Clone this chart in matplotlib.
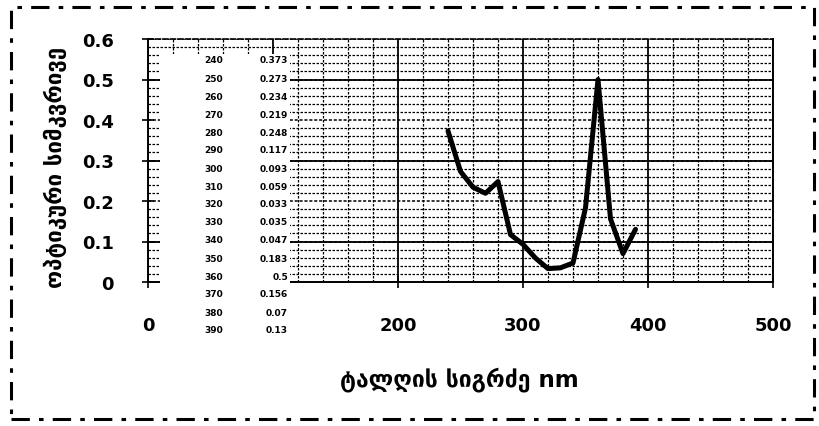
import matplotlib
matplotlib.use("Agg")
import matplotlib.pyplot as plt
from matplotlib.patches import Rectangle

# data (table inset)
wavelength = [240, 250, 260, 270, 280, 290, 300, 310, 320, 330, 340, 350, 360, 370, 380, 390]
density = [0.373, 0.273, 0.234, 0.219, 0.248, 0.117, 0.093, 0.059, 0.033, 0.035,
           0.047, 0.183, 0.5, 0.156, 0.07, 0.13]
table_vals = ["0.373", "0.273", "0.234", "0.219", "0.248", "0.117", "0.093", "0.059",
              "0.033", "0.035", "0.047", "0.183", "0.5", "0.156", "0.07", "0.13"]

x_ticks = [0, 100, 200, 300, 400, 500]
x_ticklabels = ["0", "100", "200", "300", "400", "500"]
y_ticks = [0, 0.1, 0.2, 0.3, 0.4, 0.5, 0.6]
y_ticklabels = ["0", "0.1", "0.2", "0.3", "0.4", "0.5", "0.6"]
x_minor = list(range(0, 501, 20))
y_minor = [i / 50 for i in range(31)]
solid_y = [0.1, 0.3, 0.5]

x_label = "ტალღის სიგრძე nm"
y_label = "ოპტიკური სიმკვრივე"

plt.rcParams['font.family'] = ['DejaVu Sans']

fig = plt.figure(figsize=(8.19, 4.27), dpi=100)
ax = fig.add_axes([148 / 819, 1 - 283 / 427, (773 - 148) / 819, (283 - 40) / 427])

ax.set_xlim(0, 500)
ax.set_ylim(0, 0.6)
ax.set_xticks(x_ticks, x_ticklabels, fontweight='bold')
ax.set_yticks(y_ticks, y_ticklabels, fontweight='bold')
ax.set_xticks(x_minor, minor=True)
ax.set_yticks(y_minor, minor=True)

# grid: dotted minor everywhere, solid verticals at 100s, some solid horizontals
ax.grid(which='minor', color='black', linestyle=(0, (2, 1.2)), linewidth=0.9)
ax.grid(which='major', axis='y', color='black', linestyle=(0, (2, 1.2)), linewidth=1.1)
ax.grid(which='major', axis='x', color='black', linestyle='-', linewidth=1.3)
ax.hlines(solid_y, 0, 500, colors='black', linewidth=1.3, zorder=1)
ax.set_axisbelow(True)

ax.plot(wavelength, density, color='black', linewidth=3.6,
        solid_joinstyle='round', solid_capstyle='round', zorder=3)

ax.tick_params(which='major', direction='inout', length=9, width=1.2,
               labelsize=13, pad=20)
ax.tick_params(which='minor', length=0)
for side in ['left', 'bottom', 'right']:
    ax.spines[side].set_linewidth(1.4)
ax.spines['top'].set_linestyle((0, (3, 1.5)))
ax.spines['top'].set_linewidth(1.2)

ax.set_xlabel(x_label, fontsize=16.5, fontweight='bold', va='center')
ax.set_ylabel(y_label, fontsize=16, fontweight='bold', va='center')
ax.xaxis.set_label_coords((459 - 148) / (773 - 148), -(380 - 283) / (283 - 40))
ax.yaxis.set_label_coords(-(148 - 55) / (773 - 148), (283 - 167) / (283 - 40))

# white table inset covering part of the plot
fig.patches.append(Rectangle((160 / 819, 1 - 333 / 427), 130 / 819, 278 / 427,
                             transform=fig.transFigure, facecolor='white',
                             edgecolor='none', zorder=1))
for i, (w, v) in enumerate(zip(wavelength, table_vals)):
    yy = 1 - (61 + i * 18) / 427
    fig.text(214 / 819, yy, str(w), ha='center', va='center', fontsize=6.5,
             fontweight='bold', zorder=3)
    fig.text(288 / 819, yy, v, ha='right', va='center', fontsize=6.5,
             fontweight='bold', zorder=3)

# dash-dot frame around the whole picture
fig.patches.append(Rectangle((11 / 819, 7 / 427), 803 / 819, 412 / 427,
                             transform=fig.transFigure, facecolor='none',
                             edgecolor='black', linewidth=2.2,
                             linestyle=(0, (6, 3, 1.5, 3)), zorder=2))

fig.savefig("out.png", dpi=100)
